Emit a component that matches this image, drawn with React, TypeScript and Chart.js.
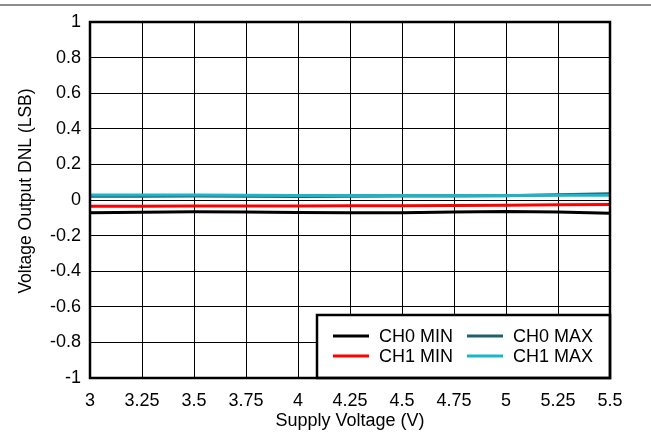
import React, { useEffect, useRef } from "react";
import { Chart, registerables } from "chart.js";

Chart.register(...registerables);

const supplyVoltage = [3, 3.25, 3.5, 3.75, 4, 4.25, 4.5, 4.75, 5, 5.25, 5.5];
const ch0Min = [-0.072, -0.069, -0.066, -0.068, -0.07, -0.071, -0.071, -0.068, -0.064, -0.068, -0.075];
const ch1Min = [-0.035, -0.035, -0.034, -0.034, -0.034, -0.033, -0.033, -0.031, -0.029, -0.027, -0.025];
const ch0Max = [0.021, 0.021, 0.022, 0.021, 0.02, 0.021, 0.022, 0.023, 0.024, 0.029, 0.035];
const ch1Max = [0.028, 0.028, 0.028, 0.026, 0.025, 0.025, 0.025, 0.025, 0.025, 0.026, 0.027];

const seriesNames = ["CH0 MIN", "CH1 MIN", "CH0 MAX", "CH1 MAX"];
const seriesColors = ["#000000", "#ff0000", "#1f5f6f", "#19b6cb"];
const drawOrder = [3, 2, 1, 0];

const xTitle = "Supply Voltage (V)";
const yTitle = "Voltage Output DNL (LSB)";

const FONT = "'Liberation Sans', Arial, sans-serif";
const FS = 18;

const decorPlugin = {
  id: "decor",
  beforeDraw(chart: any) {
    const ctx = chart.ctx;
    ctx.save();
    ctx.fillStyle = "#ffffff";
    ctx.fillRect(0, 0, chart.width, chart.height);
    ctx.strokeStyle = "#8c8c8c";
    ctx.lineWidth = 2;
    ctx.beginPath();
    ctx.moveTo(0, 5);
    ctx.lineTo(chart.width, 5);
    ctx.stroke();
    ctx.restore();
  },
  afterDraw(chart: any) {
    const ctx = chart.ctx;
    const a = chart.chartArea;
    ctx.save();
    // y-axis title
    ctx.save();
    ctx.translate(26, (a.top + a.bottom) / 2 - 9);
    ctx.rotate(-Math.PI / 2);
    ctx.font = "17.5px " + FONT;
    ctx.fillStyle = "#000";
    ctx.textAlign = "center";
    ctx.textBaseline = "middle";
    ctx.fillText(yTitle, 0, 0);
    ctx.restore();
    // legend
    const bx = a.left + 227;
    const by = a.bottom - 63;
    const bw = a.right - bx;
    const bh = a.bottom - by;
    ctx.fillStyle = "#ffffff";
    ctx.fillRect(bx, by, bw, bh);
    ctx.strokeStyle = "#000000";
    ctx.lineWidth = 2.5;
    ctx.strokeRect(bx, by, bw, bh);
    ctx.font = FS + "px " + FONT;
    ctx.textBaseline = "middle";
    ctx.textAlign = "left";
    const cols = [bx + 16, bx + 150];
    const rows = [by + 21, by + 41];
    [0, 1, 2, 3].forEach((i, k) => {
      const x = cols[Math.floor(k / 2)];
      const y = rows[k % 2];
      ctx.strokeStyle = seriesColors[i];
      ctx.lineWidth = 3;
      ctx.beginPath();
      ctx.moveTo(x, y);
      ctx.lineTo(x + 36, y);
      ctx.stroke();
      ctx.fillStyle = "#000000";
      ctx.fillText(seriesNames[i], x + 46, y + 1);
    });
    ctx.strokeStyle = "#000000";
    ctx.lineWidth = 2.5;
    ctx.strokeRect(a.left, a.top, a.right - a.left, a.bottom - a.top);
    ctx.restore();
  },
};

export default function App() {
  const ref = useRef<HTMLCanvasElement>(null);
  useEffect(() => {
    if (!ref.current) return;
    const datasets = [ch0Min, ch1Min, ch0Max, ch1Max].map((vals, i) => ({
      label: seriesNames[i],
      data: vals.map((v, j) => ({ x: supplyVoltage[j], y: v })),
      borderColor: seriesColors[i],
      backgroundColor: seriesColors[i],
      borderWidth: 3,
      pointRadius: 0,
      tension: 0,
      order: drawOrder[i],
    }));
    const chart = new Chart(ref.current, {
      type: "line",
      data: { datasets },
      plugins: [decorPlugin],
      options: {
        animation: false,
        responsive: false,
        layout: { padding: { left: 0, top: 22, right: 41, bottom: 0 } },
        plugins: { legend: { display: false }, tooltip: { enabled: false } },
        scales: {
          x: {
            type: "linear",
            min: 3,
            max: 5.5,
            afterFit: (s: any) => {
              s.height = 56;
            },
            ticks: {
              stepSize: 0.25,
              color: "#000",
              padding: 12,
              maxRotation: 0,
              autoSkip: false,
              font: { family: FONT, size: FS },
              callback: (v: any) => String(Number(Number(v).toFixed(2))),
            },
            grid: { color: "#000", lineWidth: 1, drawTicks: false },
            border: { display: false },
            title: {
              display: true,
              text: xTitle,
              color: "#000",
              font: { family: FONT, size: FS },
              padding: { top: 0, bottom: 2 },
            },
          },
          y: {
            type: "linear",
            min: -1,
            max: 1,
            afterFit: (s: any) => {
              s.width = 90;
            },
            ticks: {
              stepSize: 0.2,
              color: "#000",
              padding: 9,
              font: { family: FONT, size: FS },
              callback: (v: any) => String(Number(Number(v).toFixed(1))),
            },
            grid: { color: "#000", lineWidth: 1, drawTicks: false },
            border: { display: false },
            title: { display: false },
          },
        },
      },
    });
    return () => chart.destroy();
  }, []);
  return (
    <div style={{ position: "absolute", left: 0, top: 0, width: 651, height: 434 }}>
      <canvas ref={ref} width={651} height={434} style={{ width: 651, height: 434 }} />
    </div>
  );
}
